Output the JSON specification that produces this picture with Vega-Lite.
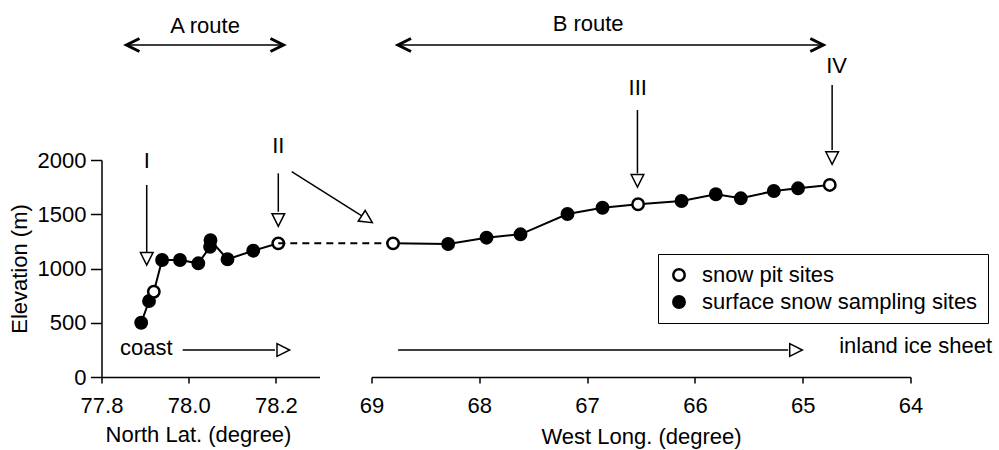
{
  "$schema": "https://vega.github.io/schema/vega-lite/v6.json",
  "width": 809,
  "height": 217,
  "autosize": {"type": "none"},
  "padding": {"left": 101.5, "top": 160, "right": 88.5, "bottom": 73},
  "background": "white",
  "config": {
    "view": {"stroke": null},
    "font": "Liberation Sans",
    "axis": {
      "domainColor": "black", "tickColor": "black", "labelColor": "black", "titleColor": "black",
      "domainWidth": 1.5, "tickWidth": 1.5, "labelFontSize": 22, "titleFontSize": 22,
      "titleFontWeight": "normal", "labelFont": "Liberation Sans", "titleFont": "Liberation Sans",
      "grid": false, "labelFlush": false, "labelOverlap": false
    },
    "text": {"font": "Liberation Sans"}
  },
  "encoding": {
    "y": {
      "field": "elev", "type": "quantitative",
      "scale": {"domain": [0, 2000], "nice": false},
      "axis": {
        "values": [0, 500, 1000, 1500, 2000], "format": "d", "title": "Elevation (m)", "orient": "left",
        "tickSize": 11, "labelPadding": 4.5, "titleX": -75, "titleY": 108.5,
        "titleBaseline": "alphabetic", "titleAngle": -90
      }
    }
  },
  "layer": [
    {
      "encoding": {
        "x": {
          "field": "lat", "type": "quantitative",
          "scale": {"domain": [77.8, 78.3], "range": [0, 218], "nice": false, "zero": false},
          "axis": {
            "values": [77.8, 78.0, 78.2], "format": ".1f", "title": "North Lat. (degree)", "orient": "bottom",
            "tickSize": 6, "labelPadding": 12, "titleX": 96.5, "titleY": 64, "titleBaseline": "alphabetic"
          }
        }
      },
      "layer": [
        {
          "data": {"values": [
            {"lat": 77.891, "elev": 500, "site": "surface snow sampling sites"},
            {"lat": 77.909, "elev": 700, "site": "surface snow sampling sites"},
            {"lat": 77.920, "elev": 786, "site": "snow pit sites"},
            {"lat": 77.939, "elev": 1078, "site": "surface snow sampling sites"},
            {"lat": 77.980, "elev": 1078, "site": "surface snow sampling sites"},
            {"lat": 78.022, "elev": 1048, "site": "surface snow sampling sites"},
            {"lat": 78.049, "elev": 1200, "site": "surface snow sampling sites"},
            {"lat": 78.050, "elev": 1260, "site": "surface snow sampling sites"},
            {"lat": 78.089, "elev": 1085, "site": "surface snow sampling sites"},
            {"lat": 78.148, "elev": 1164, "site": "surface snow sampling sites"},
            {"lat": 78.2055, "elev": 1232, "site": "snow pit sites"}
          ]},
          "layer": [
            {"mark": {"type": "line", "color": "black", "strokeWidth": 2}},
            {
              "mark": {"type": "point", "filled": true, "stroke": "black", "strokeWidth": 2.5, "size": 130, "opacity": 1},
              "encoding": {
                "fill": {
                  "field": "site", "type": "nominal",
                  "scale": {"domain": ["snow pit sites", "surface snow sampling sites"], "range": ["white", "black"]},
                  "legend": {
                    "title": null, "orient": "none", "legendX": 556.5, "legendY": 94, "strokeColor": "black",
                    "padding": 10, "labelFontSize": 22, "labelFont": "Liberation Sans", "labelColor": "black",
                    "labelLimit": 500, "symbolType": "circle", "symbolSize": 130, "symbolStrokeColor": "black",
                    "symbolStrokeWidth": 2.5, "symbolOpacity": 1, "labelOffset": 12, "rowPadding": 5
                  }
                }
              }
            }
          ]
        },
        {
          "data": {"values": [{"lat": 78.2055, "lat2": 78.469, "elev": 1232, "elev2": 1232}]},
          "mark": {"type": "rule", "color": "black", "strokeWidth": 2, "strokeDash": [7, 5]},
          "encoding": {"x2": {"field": "lat2"}, "y2": {"field": "elev2"}}
        },
        {
          "data": {"values": [
            {"lat": 77.8539, "lat2": 78.2209, "elev": 3060, "elev2": 3060},
            {"lat": 77.9037, "lat2": 77.9037, "elev": 1770, "elev2": 1152},
            {"lat": 78.2055, "lat2": 78.2055, "elev": 1877, "elev2": 1523},
            {"lat": 78.2362, "lat2": 78.397, "elev": 1892, "elev2": 1486},
            {"lat": 77.9862, "lat2": 78.198, "elev": 249, "elev2": 249}
          ]},
          "mark": {"type": "rule", "color": "black", "strokeWidth": 1.5},
          "encoding": {"x2": {"field": "lat2"}, "y2": {"field": "elev2"}}
        },
        {
          "data": {"values": [{"lat": 77.9037, "elev": 1089}, {"lat": 78.2055, "elev": 1447}]},
          "mark": {"type": "point", "shape": "M-1,-1L0,1L1,-1Z", "size": 160, "filled": true, "fill": "white", "stroke": "black", "strokeWidth": 1.5, "opacity": 1}
        },
        {
          "data": {"values": [{"lat": 78.217, "elev": 249}]},
          "mark": {"type": "point", "shape": "M-1,-1L1,0L-1,1Z", "size": 160, "filled": true, "fill": "white", "stroke": "black", "strokeWidth": 1.5, "opacity": 1}
        },
        {
          "data": {"values": [{"lat": 78.409, "elev": 1454}]},
          "mark": {"type": "point", "shape": "M-1,-1L1,0L-1,1Z", "angle": 33, "size": 160, "filled": true, "fill": "white", "stroke": "black", "strokeWidth": 1.5, "opacity": 1}
        },
        {
          "data": {"values": [{"lat": 77.8722, "elev": 3060}]},
          "mark": {"type": "point", "shape": "M1,-1L-1,0L1,1", "size": 169, "filled": false, "stroke": "black", "strokeWidth": 3, "opacity": 1}
        },
        {
          "data": {"values": [{"lat": 78.2025, "elev": 3060}]},
          "mark": {"type": "point", "shape": "M-1,-1L1,0L-1,1", "size": 169, "filled": false, "stroke": "black", "strokeWidth": 3, "opacity": 1}
        },
        {
          "data": {"values": [
            {"lat": 78.0374, "elev": 3168, "label": "A route"},
            {"lat": 77.9037, "elev": 1923, "label": "I"},
            {"lat": 78.2055, "elev": 2062, "label": "II"}
          ]},
          "mark": {"type": "text", "fontSize": 22, "baseline": "alphabetic", "align": "center", "fill": "black"},
          "encoding": {"text": {"field": "label"}}
        },
        {
          "data": {"values": [{"lat": 77.8424, "elev": 203, "label": "coast"}]},
          "mark": {"type": "text", "fontSize": 22, "baseline": "alphabetic", "align": "left", "fill": "black"},
          "encoding": {"text": {"field": "label"}}
        }
      ]
    },
    {
      "encoding": {
        "x": {
          "field": "long", "type": "quantitative",
          "scale": {"domain": [69, 64], "range": [270, 809], "nice": false, "zero": false},
          "axis": {
            "values": [69, 68, 67, 66, 65, 64], "format": "d", "title": "West Long. (degree)", "orient": "bottom",
            "tickSize": 6, "labelPadding": 12, "titleX": 539.5, "titleY": 66, "titleBaseline": "alphabetic"
          }
        }
      },
      "layer": [
        {
          "data": {"values": [
            {"long": 68.80, "elev": 1232, "site": "snow pit sites"},
            {"long": 68.289, "elev": 1226, "site": "surface snow sampling sites"},
            {"long": 67.933, "elev": 1284, "site": "surface snow sampling sites"},
            {"long": 67.618, "elev": 1315, "site": "surface snow sampling sites"},
            {"long": 67.182, "elev": 1502, "site": "surface snow sampling sites"},
            {"long": 66.857, "elev": 1560, "site": "surface snow sampling sites"},
            {"long": 66.527, "elev": 1592, "site": "snow pit sites"},
            {"long": 66.124, "elev": 1622, "site": "surface snow sampling sites"},
            {"long": 65.806, "elev": 1684, "site": "surface snow sampling sites"},
            {"long": 65.574, "elev": 1647, "site": "surface snow sampling sites"},
            {"long": 65.268, "elev": 1714, "site": "surface snow sampling sites"},
            {"long": 65.043, "elev": 1739, "site": "surface snow sampling sites"},
            {"long": 64.749, "elev": 1770, "site": "snow pit sites"}
          ]},
          "layer": [
            {"mark": {"type": "line", "color": "black", "strokeWidth": 2}},
            {
              "mark": {"type": "point", "filled": true, "stroke": "black", "strokeWidth": 2.5, "size": 130, "opacity": 1},
              "encoding": {
                "fill": {
                  "field": "site", "type": "nominal",
                  "scale": {"domain": ["snow pit sites", "surface snow sampling sites"], "range": ["white", "black"]},
                  "legend": {
                    "title": null, "orient": "none", "legendX": 556.5, "legendY": 94, "strokeColor": "black",
                    "padding": 10, "labelFontSize": 22, "labelFont": "Liberation Sans", "labelColor": "black",
                    "labelLimit": 500, "symbolType": "circle", "symbolSize": 130, "symbolStrokeColor": "black",
                    "symbolStrokeWidth": 2.5, "symbolOpacity": 1, "labelOffset": 12, "rowPadding": 5
                  }
                }
              }
            }
          ]
        },
        {
          "data": {"values": [
            {"long": 68.768, "long2": 64.795, "elev": 3060, "elev2": 3060},
            {"long": 66.533, "long2": 66.533, "elev": 2461, "elev2": 1877},
            {"long": 64.727, "long2": 64.727, "elev": 2691, "elev2": 2092},
            {"long": 68.753, "long2": 65.135, "elev": 249, "elev2": 249}
          ]},
          "mark": {"type": "rule", "color": "black", "strokeWidth": 1.5},
          "encoding": {"x2": {"field": "long2"}, "y2": {"field": "elev2"}}
        },
        {
          "data": {"values": [{"long": 66.533, "elev": 1808}, {"long": 64.727, "elev": 2018}]},
          "mark": {"type": "point", "shape": "M-1,-1L0,1L1,-1Z", "size": 160, "filled": true, "fill": "white", "stroke": "black", "strokeWidth": 1.5, "opacity": 1}
        },
        {
          "data": {"values": [{"long": 65.062, "elev": 249}]},
          "mark": {"type": "point", "shape": "M-1,-1L1,0L-1,1Z", "size": 160, "filled": true, "fill": "white", "stroke": "black", "strokeWidth": 1.5, "opacity": 1}
        },
        {
          "data": {"values": [{"long": 68.694, "elev": 3060}]},
          "mark": {"type": "point", "shape": "M1,-1L-1,0L1,1", "size": 169, "filled": false, "stroke": "black", "strokeWidth": 3, "opacity": 1}
        },
        {
          "data": {"values": [{"long": 64.869, "elev": 3060}]},
          "mark": {"type": "point", "shape": "M-1,-1L1,0L-1,1", "size": 169, "filled": false, "stroke": "black", "strokeWidth": 3, "opacity": 1}
        },
        {
          "data": {"values": [
            {"long": 66.9907, "elev": 3189, "label": "B route"},
            {"long": 66.530, "elev": 2599, "label": "III"},
            {"long": 64.686, "elev": 2799, "label": "IV"}
          ]},
          "mark": {"type": "text", "fontSize": 22, "baseline": "alphabetic", "align": "center", "fill": "black"},
          "encoding": {"text": {"field": "label"}}
        },
        {
          "data": {"values": [{"long": 64.662, "elev": 221, "label": "inland ice sheet"}]},
          "mark": {"type": "text", "fontSize": 22, "baseline": "alphabetic", "align": "left", "fill": "black"},
          "encoding": {"text": {"field": "label"}}
        }
      ]
    }
  ],
  "resolve": {"scale": {"x": "independent"}, "axis": {"x": "independent"}}
}
